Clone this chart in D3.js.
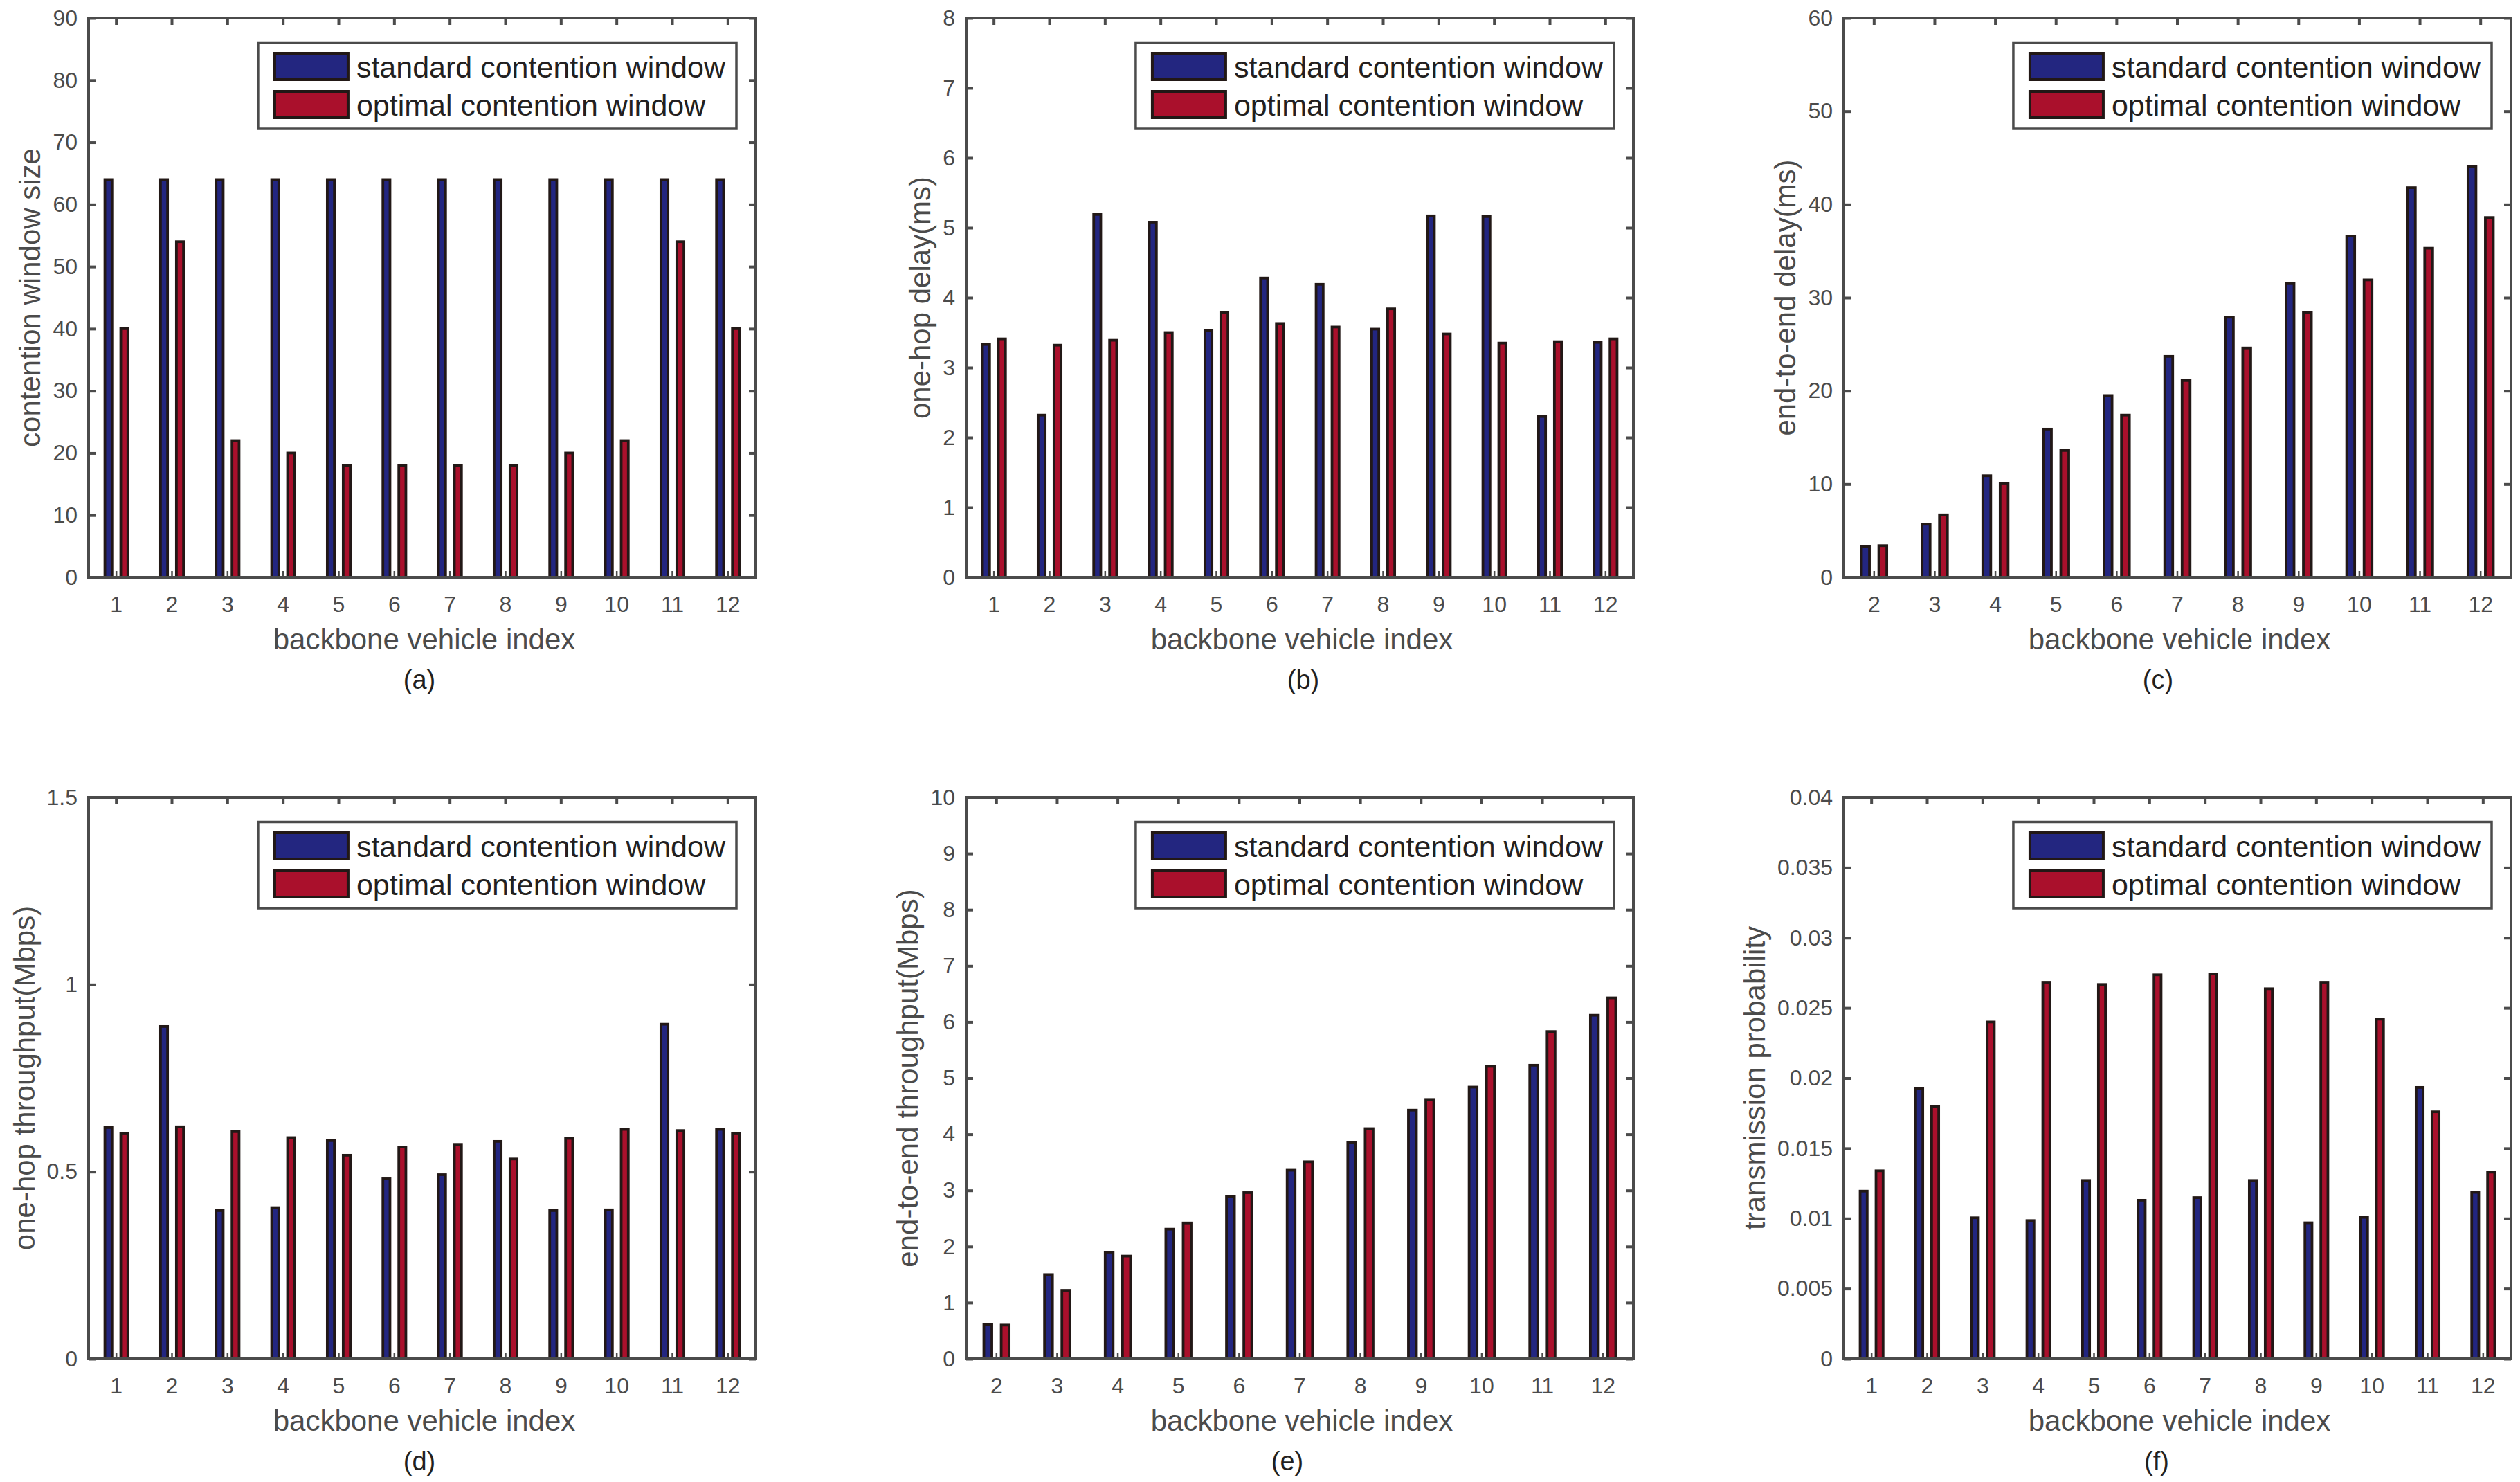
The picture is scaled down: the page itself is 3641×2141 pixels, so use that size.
<!DOCTYPE html>
<html>
<head>
<meta charset="utf-8">
<script src="https://d3js.org/d3.v7.min.js"></script>
<style>
  body { margin: 0; background: #fff; }
  text { font-family: "Liberation Sans", Arial, Helvetica, sans-serif; }
</style>
</head>
<body>
<div id="chart"></div>
<script>
// categories (backbone vehicle index)
var vehicles = [1, 2, 3, 4, 5, 6, 7, 8, 9, 10, 11, 12];
var vehiclesFrom2 = [2, 3, 4, 5, 6, 7, 8, 9, 10, 11, 12];

var seriesNames = ["standard contention window", "optimal contention window"];

// (a) contention window size
var cwStandard = [64, 64, 64, 64, 64, 64, 64, 64, 64, 64, 64, 64];
var cwOptimal = [40, 54, 22, 20, 18, 18, 18, 18, 20, 22, 54, 40];

// (b) one-hop delay (ms)
var hopDelayStandard = [3.33, 2.32, 5.19, 5.08, 3.53, 4.28, 4.19, 3.55, 5.17, 5.16, 2.30, 3.36];
var hopDelayOptimal = [3.41, 3.32, 3.39, 3.50, 3.79, 3.63, 3.58, 3.84, 3.48, 3.35, 3.37, 3.41];

// (c) end-to-end delay (ms), vehicles 2..12
var e2eDelayStandard = [3.3, 5.7, 10.9, 15.9, 19.5, 23.7, 27.9, 31.5, 36.6, 41.8, 44.1];
var e2eDelayOptimal = [3.4, 6.7, 10.1, 13.6, 17.4, 21.1, 24.6, 28.4, 31.9, 35.3, 38.6];

// (d) one-hop throughput (Mbps)
var hopThrStandard = [0.618, 0.888, 0.396, 0.404, 0.583, 0.481, 0.492, 0.581, 0.396, 0.398, 0.894, 0.613];
var hopThrOptimal = [0.603, 0.620, 0.607, 0.591, 0.544, 0.566, 0.573, 0.534, 0.589, 0.613, 0.610, 0.603];

// (e) end-to-end throughput (Mbps), vehicles 2..12
var e2eThrStandard = [0.61, 1.50, 1.90, 2.31, 2.89, 3.36, 3.85, 4.43, 4.84, 5.23, 6.12];
var e2eThrOptimal = [0.60, 1.22, 1.83, 2.42, 2.96, 3.51, 4.10, 4.62, 5.21, 5.83, 6.43];

// (f) transmission probability
var txProbStandard = [0.01195, 0.01924, 0.01005, 0.00985, 0.01271, 0.01130, 0.01149, 0.01271, 0.00969, 0.01008, 0.01934, 0.01186];
var txProbOptimal = [0.0134, 0.01796, 0.0240, 0.02683, 0.02667, 0.02736, 0.02742, 0.02637, 0.02683, 0.0242, 0.0176, 0.0133];

// y tick values
var ticksA = [0, 10, 20, 30, 40, 50, 60, 70, 80, 90];
var ticksB = [0, 1, 2, 3, 4, 5, 6, 7, 8];
var ticksC = [0, 10, 20, 30, 40, 50, 60];
var ticksD = [0, 0.5, 1, 1.5];
var ticksE = [0, 1, 2, 3, 4, 5, 6, 7, 8, 9, 10];
var ticksF = [0, 0.005, 0.01, 0.015, 0.02, 0.025, 0.03, 0.035, 0.04];

var xLabel = "backbone vehicle index";
var yLabels = ["contention window size", "one-hop delay(ms)", "end-to-end delay(ms)",
  "one-hop throughput(Mbps)", "end-to-end throughput(Mbps)", "transmission probability"];
var panelLetters = ["(a)", "(b)", "(c)", "(d)", "(e)", "(f)"];

var panels = [
  { cats: vehicles, std: cwStandard, opt: cwOptimal, ticks: ticksA },
  { cats: vehicles, std: hopDelayStandard, opt: hopDelayOptimal, ticks: ticksB },
  { cats: vehiclesFrom2, std: e2eDelayStandard, opt: e2eDelayOptimal, ticks: ticksC },
  { cats: vehicles, std: hopThrStandard, opt: hopThrOptimal, ticks: ticksD },
  { cats: vehiclesFrom2, std: e2eThrStandard, opt: e2eThrOptimal, ticks: ticksE },
  { cats: vehicles, std: txProbStandard, opt: txProbOptimal, ticks: ticksF }
];

// layout
var W = 3641, H = 2141;
var plotW = 964;
var lefts = [128, 1396, 2664];
var tops = [26, 1152];
var heights = [808, 811];
var letterShift = [-4, 5, -28, -4, -18, -30];

var axisGray = "#4b4b4b";
var darkText = "#231f20";
var barEdge = "#221816";
var colors = ["#232680", "#aa102c"];

var svg = d3.select("#chart")
  .append("svg")
  .attr("width", W)
  .attr("height", H)
  .style("background", "#fff");

panels.forEach(function (p, i) {
  var col = i % 3, row = Math.floor(i / 3);
  var height = heights[row];
  drawPanel(p, i, lefts[col], tops[row], plotW, height);
});

function drawPanel(p, i, left, top, width, height) {
  var g = svg.append("g").attr("transform", "translate(" + left + "," + top + ")");

  var x = d3.scaleBand().domain(p.cats).range([0, width]).paddingInner(0).paddingOuter(0);
  var yMax = p.ticks[p.ticks.length - 1];
  var y = d3.scaleLinear().domain([0, yMax]).range([height, 0]);

  var step = x.bandwidth();
  var edgeW = 3.8;
  var barW = 0.175 * step - edgeW;
  var off = 0.143 * step;

  // bars
  var series = [p.std, p.opt];
  series.forEach(function (vals, s) {
    g.append("g")
      .selectAll("rect")
      .data(vals)
      .enter()
      .append("rect")
      .attr("x", function (d, k) {
        return x(p.cats[k]) + step / 2 + (s === 0 ? -off : off) - barW / 2;
      })
      .attr("y", function (d) { return y(d); })
      .attr("width", barW)
      .attr("height", function (d) { return height - y(d); })
      .style("fill", colors[s])
      .style("stroke", barEdge)
      .style("stroke-width", edgeW);
  });

  var fmt = function (d) { return String(d); };

  // y axis left with labels
  var yAxis = g.append("g")
    .call(d3.axisLeft(y).tickValues(p.ticks).tickFormat(fmt).tickSize(-10).tickPadding(16));
  // y ticks right
  var yAxisR = g.append("g")
    .attr("transform", "translate(" + width + ",0)")
    .call(d3.axisRight(y).tickValues(p.ticks).tickFormat("").tickSize(-10));
  // x axis bottom
  var xAxis = g.append("g")
    .attr("transform", "translate(0," + height + ")")
    .call(d3.axisBottom(x).tickSize(-9).tickPadding(27));
  // x ticks top
  var xAxisT = g.append("g")
    .call(d3.axisTop(x).tickFormat("").tickSize(-10));

  [yAxis, yAxisR, xAxis, xAxisT].forEach(function (a) {
    a.select(".domain").remove();
    a.selectAll("line").style("stroke", axisGray).style("stroke-width", 4);
    a.selectAll("text")
      .style("fill", axisGray)
      .style("font-size", "32px")
      .style("font-family", "'Liberation Sans', Arial, sans-serif");
  });
  xAxis.selectAll("line").style("stroke-width", 2.5);

  // frame
  g.append("rect")
    .attr("x", 0)
    .attr("y", 0)
    .attr("width", width)
    .attr("height", height)
    .style("fill", "none")
    .style("stroke", axisGray)
    .style("stroke-width", 4);

  // y label
  var maxTickW = 0;
  yAxis.selectAll("text").each(function () {
    maxTickW = Math.max(maxTickW, this.getComputedTextLength());
  });
  g.append("text")
    .attr("transform", "translate(" + (-(maxTickW + 16 + 18)) + "," + height / 2 + ") rotate(-90)")
    .attr("text-anchor", "middle")
    .style("font-size", "42px")
    .style("fill", axisGray)
    .text(yLabels[i]);

  // x label
  g.append("text")
    .attr("x", width / 2 + 3)
    .attr("y", height + 104)
    .attr("text-anchor", "middle")
    .style("font-size", "42px")
    .style("fill", axisGray)
    .text(xLabel);

  // panel letter
  g.append("text")
    .attr("x", width / 2 + letterShift[i])
    .attr("y", height + 161)
    .attr("text-anchor", "middle")
    .style("font-size", "38px")
    .style("fill", darkText)
    .text(panelLetters[i]);

  // legend
  var leg = g.append("g");
  var texts = leg.selectAll("text")
    .data(seriesNames)
    .enter()
    .append("text")
    .style("font-size", "43px")
    .style("fill", darkText)
    .text(function (d) { return d; });
  var textW = 0;
  texts.each(function () { textW = Math.max(textW, this.getComputedTextLength()); });

  var boxW = 22 + 110 + 10 + textW + 16;
  var boxH = 124.5;
  var boxX = width - 28 - boxW;
  var boxY = 35.5;

  leg.insert("rect", "text")
    .attr("x", boxX)
    .attr("y", boxY)
    .attr("width", boxW)
    .attr("height", boxH)
    .style("fill", "#fff")
    .style("stroke", axisGray)
    .style("stroke-width", 3.5);

  seriesNames.forEach(function (name, s) {
    var cy = boxY + 34.5 + s * 55;
    leg.append("rect")
      .attr("x", boxX + 24)
      .attr("y", cy - 19)
      .attr("width", 106)
      .attr("height", 38)
      .style("fill", colors[s])
      .style("stroke", barEdge)
      .style("stroke-width", 4);
  });

  texts
    .attr("x", boxX + 22 + 110 + 10)
    .attr("y", function (d, s) { return boxY + 34.5 + s * 55 + 16; });
}
</script>
</body>
</html>
